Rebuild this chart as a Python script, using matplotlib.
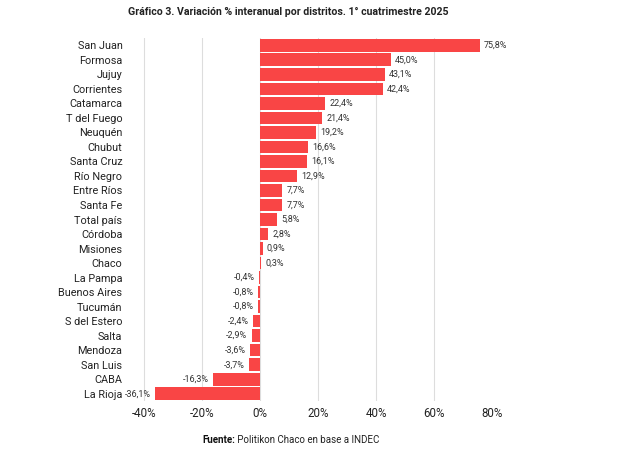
import matplotlib.pyplot as plt

# datos
distritos = ['San Juan', 'Formosa', 'Jujuy', 'Corrientes', 'Catamarca', 'T del Fuego',
             'Neuquén', 'Chubut', 'Santa Cruz', 'Río Negro', 'Entre Ríos', 'Santa Fe',
             'Total país', 'Córdoba', 'Misiones', 'Chaco', 'La Pampa', 'Buenos Aires',
             'Tucumán', 'S del Estero', 'Salta', 'Mendoza', 'San Luis', 'CABA', 'La Rioja']
variacion = [75.8, 45.0, 43.1, 42.4, 22.4, 21.4, 19.2, 16.6, 16.1, 12.9, 7.7, 7.7,
             5.8, 2.8, 0.9, 0.3, -0.4, -0.8, -0.8, -2.4, -2.9, -3.6, -3.7, -16.3, -36.1]
ticks = [-40, -20, 0, 20, 40, 60, 80]

plt.rcParams['font.family'] = ['Roboto', 'DejaVu Sans']

fig = plt.figure(figsize=(6.19, 4.71), dpi=100)
# eje: 2.9 px por punto porcentual, 0% en x=260
x0 = 260 - 46 * 2.9
ax = fig.add_axes([x0 / 619, 1 - 401 / 471, 126 * 2.9 / 619, 363 / 471])

pos = list(range(len(distritos)))
ax.barh(pos, variacion, height=0.87, color='#F94545', zorder=2)

for y, v in zip(pos, variacion):
    txt = f'{v:.1f}%'.replace('.', ',')
    if v >= 0:
        ax.annotate(txt, (v, y), xytext=(3, 0), textcoords='offset points',
                    ha='left', va='center', fontsize=6.5, color='#333333')
    else:
        ax.annotate(txt, (v, y), xytext=(-3, 0), textcoords='offset points',
                    ha='right', va='center', fontsize=6.5, color='#333333')

ax.set_yticks(pos)
ax.set_yticklabels(distritos, fontsize=7.8, color='#222222')
ax.set_ylim(len(distritos) - 0.5, -0.5)
ax.set_xlim(-46, 80)
ax.set_xticks(ticks)
ax.set_xticklabels([f'{t}%' for t in ticks], fontsize=8.3, color='#222222')
ax.tick_params(axis='y', length=0, pad=3)
ax.tick_params(axis='x', length=0, pad=4)
for t in ticks[:-1]:
    ax.axvline(t, color='#dddddd', linewidth=0.8, zorder=1)
for s in ax.spines.values():
    s.set_visible(False)

fig.text(288 / 619, 1 - 12 / 471, 'Gráfico 3. Variación % interanual por distritos. 1° cuatrimestre 2025',
         ha='center', va='center', fontsize=7.6, fontweight='bold', color='#222222')
fuente = fig.text(202 / 619, 1 - 440 / 471, 'Fuente:', ha='left', va='center',
                  fontsize=7, fontweight='bold', color='#111111')
fig.canvas.draw()
bb = fuente.get_window_extent()
fig.text(bb.x1 / fig.bbox.width, bb.y0 / fig.bbox.height, ' Politikon Chaco en base a INDEC',
         fontsize=7, color='#222222', ha='left', va='bottom')

fig.savefig('out.png', dpi=100)
